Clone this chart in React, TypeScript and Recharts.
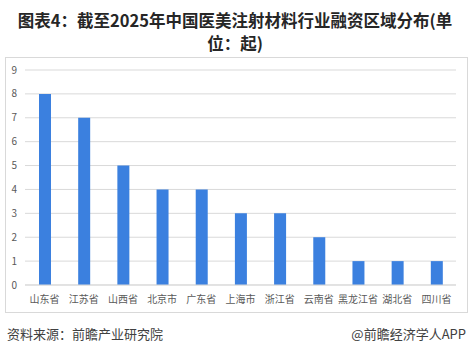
import { BarChart, Bar, XAxis, YAxis, CartesianGrid } from 'recharts';

const regions = ['山东省', '江苏省', '山西省', '北京市', '广东省', '上海市', '浙江省', '云南省', '黑龙江省', '湖北省', '四川省'];
const counts = [8, 7, 5, 4, 4, 3, 3, 2, 1, 1, 1];
const yTicks = [0, 1, 2, 3, 4, 5, 6, 7, 8, 9];

const data = regions.map((name, i) => ({ name, value: counts[i] }));

const font = '"Noto Sans CJK SC", "Noto Sans", sans-serif';

const titleStyle = {
  position: 'absolute' as const,
  left: 0,
  width: 470,
  textAlign: 'center' as const,
  fontSize: 16.5,
  fontWeight: 'bold' as const,
  lineHeight: '24px',
  height: 24,
  color: '#262626',
};

export default function App() {
  return (
    <div style={{ position: 'absolute', left: 0, top: 0, width: 470, height: 354, background: '#fff', fontFamily: font }}>
      <div style={{ ...titleStyle, top: 8 }}>图表4：截至2025年中国医美注射材料行业融资区域分布(单</div>
      <div style={{ ...titleStyle, top: 31 }}>位：起)</div>
      <div
        style={{
          position: 'absolute',
          left: 5,
          top: 57,
          width: 461,
          height: 254,
          border: '1px solid #d9d9d9',
        }}
      />
      <div style={{ position: 'absolute', left: 0, top: 0 }}>
        <BarChart width={470} height={354} data={data} margin={{ top: 70, right: 14, bottom: 39, left: 5 }}>
          <CartesianGrid vertical={false} stroke="#d9d9d9" />
          <XAxis
            dataKey="name"
            interval={0}
            tickLine={false}
            axisLine={{ stroke: '#d9d9d9' }}
            tickMargin={5}
            tick={{ fontSize: 10, fill: '#595959', fontFamily: font }}
          />
          <YAxis
            width={20}
            domain={[0, 9]}
            ticks={yTicks}
            interval={0}
            tickLine={false}
            axisLine={false}
            tick={{ fontSize: 10, fill: '#595959', fontFamily: font }}
          />
          <Bar dataKey="value" fill="#3b80df" barSize={12} isAnimationActive={false} />
        </BarChart>
      </div>
      <div style={{ position: 'absolute', left: 7, top: 324, fontSize: 13, color: '#404040' }}>资料来源：前瞻产业研究院</div>
      <div style={{ position: 'absolute', right: 4, top: 324, fontSize: 13, color: '#404040' }}>@前瞻经济学人APP</div>
    </div>
  );
}
